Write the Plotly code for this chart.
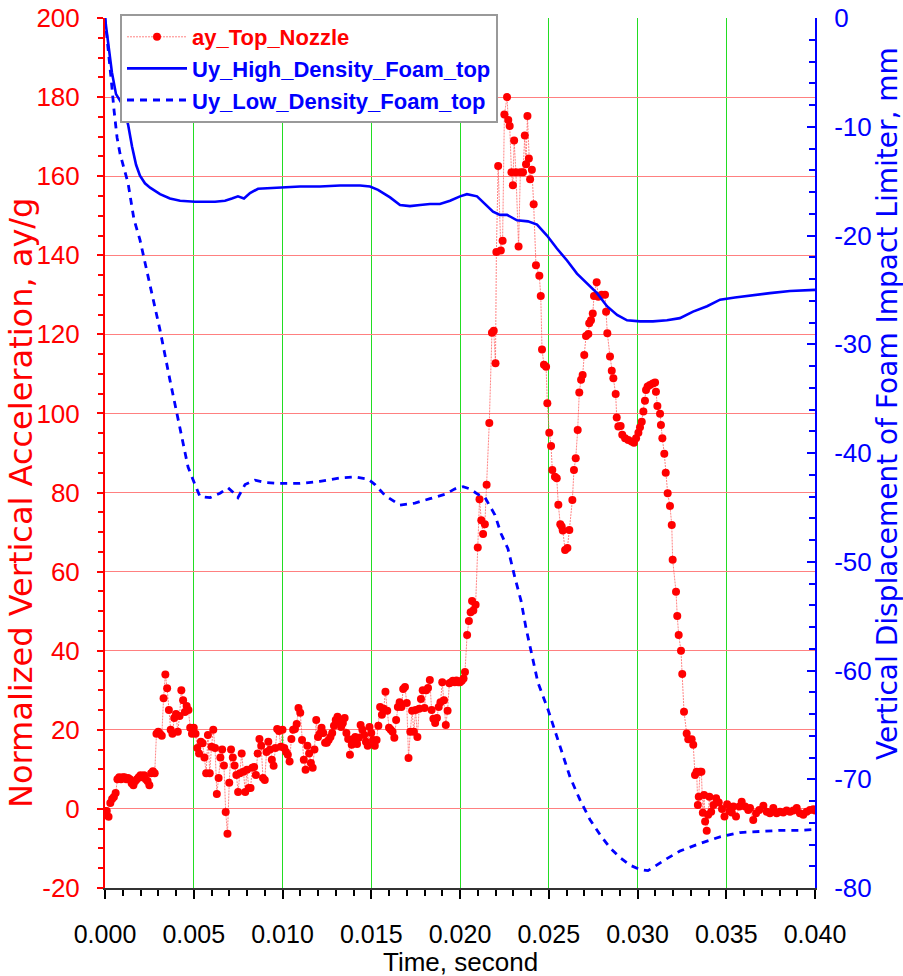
import plotly.graph_objects as go

# ---------------- data ----------------
# ay_Top_Nozzle: first part sampled every 0.0001 s from 0.0000 to 0.0199
ay_early_values = [
    -0.5, -0.5, -2, 1.5, 2.5, 3, 4, 7.5, 8, 7.5, 8, 8, 7.5, 7.8, 7.5, 6.5, 6, 7, 7.5, 8,
    8.5, 8, 8.5, 7.5, 7, 6, 9, 9.5, 9, 19, 19.5, 19, 18.5, 28, 34, 30.5, 25, 20, 19, 23,
    24, 19.5, 23.5, 30, 27.5, 24.5, 26, 25, 20.5, 19,
    20.5, 19, 15.4, 14, 17, 16.6, 13, 9, 18.7, 9, 15.7, 20, 15.4, 3.8, 7.8, 13, 15, 11, -0.8, -6.3,
    6.6, 15, 13, 11, 8.6, 4.3, 9, 14, 9.4, 4.3, 9.9, 5.3, 5.3, 10.4, 10.6, 8.6, 14, 17.7, 16, 7.8,
    7.3, 14.4, 17, 15, 12.4, 10.9, 15.4, 20.2, 19.7, 15.7,
    20, 15.4, 14.4, 13.7, 12, 17.7, 20, 20.2, 21.5, 25.5, 24.3, 17.4, 12.4, 9.9, 16, 14, 11.6, 10.4, 15, 22.5,
    18.2, 19, 20.5, 19.2, 16.7, 16.7, 17.4, 18.2, 19.2, 21, 22.5, 23.3, 22, 20.7, 21.7, 23, 19.2, 17.7, 13.7, 16.2,
    17.7, 18.2, 16.4, 18, 21.2, 20, 18.7, 17, 16, 20.7,
    19.2, 17.4, 16, 17.4, 21, 25.8, 23.8, 25.3, 29.6, 24.8, 20.5, 20, 19.5, 18, 22.5, 25.8, 27, 25.8, 30.3, 30.8,
    26.8, 12.9, 19.5, 24.8, 19.5, 25, 18.2, 25.3, 27.8, 30, 25.5, 30, 30.6, 32.6, 25, 22.8, 21.7, 23, 25.8, 27,
    32, 27.5, 21.2, 24.8, 31.8, 32, 32.4, 32, 32.5, 32,
]
ay_early_times = [round(i * 0.0001, 4) for i in range(len(ay_early_values))]

ay_late_times = [
    0.02000, 0.02010, 0.02020, 0.02028, 0.02040, 0.02050, 0.02060, 0.02068, 0.02075, 0.02088,
    0.02100, 0.02110, 0.02120, 0.02130, 0.02140, 0.02150, 0.02165, 0.02180, 0.02190, 0.02200,
    0.02205, 0.02215, 0.02230, 0.02240, 0.02250, 0.02265, 0.02272, 0.02280, 0.02290, 0.02298,
    0.02305, 0.02315, 0.02330, 0.02340, 0.02355, 0.02365, 0.02372, 0.02380, 0.02388, 0.02395,
    0.02405, 0.02415, 0.02428, 0.02447, 0.02455, 0.02462, 0.02473, 0.02485, 0.02492, 0.02503,
    0.02513, 0.02520, 0.02535, 0.02545, 0.02554, 0.02565, 0.02573, 0.02579, 0.02592, 0.02605,
    0.02616, 0.02633, 0.02642, 0.02652, 0.02663, 0.02672, 0.02682, 0.02691, 0.02700, 0.02710,
    0.02723, 0.02728, 0.02738, 0.02748, 0.02755, 0.02770, 0.02779, 0.02798, 0.02817, 0.02823,
    0.02830, 0.02845, 0.02855, 0.02864, 0.02877, 0.02883, 0.02892, 0.02905, 0.02914, 0.02930,
    0.02948, 0.02967, 0.02980, 0.02992, 0.03005, 0.03014, 0.03024, 0.03033, 0.03042, 0.03048,
    0.03057, 0.03070, 0.03086, 0.03099, 0.03104, 0.03112, 0.03127, 0.03132, 0.03140, 0.03151,
    0.03159, 0.03170, 0.03183, 0.03193, 0.03198, 0.03217, 0.03224, 0.03232, 0.03245, 0.03252,
    0.03262, 0.03277, 0.03286, 0.03305, 0.03314, 0.03324, 0.03333, 0.03340, 0.03345, 0.03352,
    0.03360, 0.03368, 0.03375, 0.03381, 0.03390, 0.03398, 0.03405, 0.03415, 0.03428, 0.03443,
    0.03458, 0.03476, 0.03490, 0.03505, 0.03518, 0.03531, 0.03540, 0.03555, 0.03574, 0.03587,
    0.03606, 0.03624, 0.03634, 0.03652, 0.03668, 0.03686, 0.03709, 0.03728, 0.03746, 0.03765,
    0.03784, 0.03803, 0.03821, 0.03840, 0.03859, 0.03878, 0.03897, 0.03915, 0.03934, 0.03953,
    0.03972, 0.03991, 0.04000,
]
ay_late_values = [
    32.0, 32.4, 33.0, 34.6, 44.0, 47.5, 49.7, 52.6, 50.2, 51.6,
    66.1, 78.3, 73.0, 69.5, 72.0, 82.0, 97.6, 120.4, 120.9, 112.7,
    140.8, 162.6, 141.2, 143.7, 175.6, 180.0, 174.2, 172.7, 161.0, 157.7,
    169.0, 161.0, 142.2, 161.0, 161.0, 170.3, 163.0, 175.2, 164.5, 159.2,
    161.6, 152.9, 137.5, 134.8, 129.7, 116.2, 112.3, 111.8, 102.6, 95.1,
    91.8, 85.7, 84.0, 83.6, 76.9, 72.0, 71.4, 70.4, 65.5, 66.0,
    70.5, 78.1, 85.7, 88.7, 95.8, 105.3, 108.5, 109.7, 114.8, 119.6,
    120.1, 122.8, 123.6, 125.3, 129.7, 133.2, 129.5, 130.0, 130.0, 125.7,
    120.3, 114.4, 110.8, 108.9, 104.9, 99.0, 96.7, 96.8, 94.6, 93.7,
    93.3, 92.9, 92.6, 93.7, 95.1, 96.5, 97.9, 100.5, 103.2, 105.9,
    106.8, 107.2, 107.6, 107.8, 105.5, 101.9, 99.9, 97.1, 93.7, 89.8,
    85.0, 79.8, 76.6, 71.8, 63.0, 54.9, 48.8, 44.0, 40.0, 34.1,
    24.6, 19.1, 17.6, 17.6, 16.2, 8.6, 9.4, 1.0, 3.1, 9.4,
    9.4, -1.0, 3.5, -3.2, -5.5, -1.5, 3.1, -0.7, 1.0, 2.7,
    1.6, 0.0, -1.9, 1.2, -0.5, -0.9, 0.6, -1.9, 0.6, 1.8,
    0.6, -0.3, 0.2, -2.8, -1.1, -0.3, 0.8, -0.7, -1.1, 0.2,
    -1.1, -0.7, -0.9, -0.4, -0.7, -0.4, 0.2, -1.1, -1.5, -0.7,
    -0.3, -0.1, -0.4,
]
ay_times = ay_early_times + ay_late_times
ay_values = ay_early_values + ay_late_values

# Uy_High_Density_Foam_top (mm)
high_times = [
    0.0, 0.00017, 0.00039, 0.00062, 0.00085, 0.00107, 0.0013, 0.00152, 0.00175, 0.00197,
    0.00225, 0.00254, 0.0031, 0.00366, 0.00423, 0.00507, 0.0062, 0.00676, 0.00715, 0.00749,
    0.00783, 0.00817, 0.00862, 0.00986, 0.01099, 0.01211, 0.01324, 0.01437, 0.01493, 0.01538,
    0.01606, 0.01662, 0.01718, 0.01775, 0.01831, 0.01887, 0.01944, 0.02, 0.02039, 0.02096,
    0.0213, 0.02186, 0.02225, 0.02265, 0.02321, 0.02383, 0.02434, 0.0249, 0.02546, 0.02603,
    0.02659, 0.02715, 0.02772, 0.02828, 0.02885, 0.02941, 0.03014, 0.03087, 0.03166, 0.03239,
    0.03313, 0.03392, 0.03465, 0.03549, 0.03634, 0.03746, 0.03859, 0.04,
]
high_values = [
    0.0, -2.0, -5.0, -7.0, -7.6, -8.2, -9.8, -11.8, -13.5, -14.5,
    -15.2, -15.6, -16.2, -16.6, -16.8, -16.9, -16.9, -16.8, -16.6, -16.4,
    -16.6, -16.1, -15.7, -15.6, -15.5, -15.5, -15.4, -15.4, -15.5, -15.8,
    -16.5, -17.2, -17.3, -17.2, -17.1, -17.1, -16.8, -16.4, -16.2, -16.4,
    -16.9, -17.8, -18.1, -18.1, -18.6, -18.7, -19.0, -20.0, -21.2, -22.3,
    -23.5, -24.4, -25.3, -26.5, -27.3, -27.8, -27.9, -27.9, -27.8, -27.6,
    -27.0, -26.5, -25.9, -25.7, -25.5, -25.3, -25.1, -25.0,
]

# Uy_Low_Density_Foam_top (mm)
low_times = [
    0.0, 0.00017, 0.00034, 0.00051, 0.00068, 0.00085, 0.00107, 0.0013, 0.00163, 0.00197,
    0.00254, 0.0031, 0.00366, 0.00423, 0.00468, 0.00507, 0.00535, 0.00592, 0.00648, 0.00693,
    0.00721, 0.00749, 0.00789, 0.00845, 0.00901, 0.00986, 0.01099, 0.01211, 0.01324, 0.01408,
    0.01482, 0.01521, 0.01577, 0.01662, 0.01746, 0.01831, 0.01915, 0.01972, 0.02017, 0.02056,
    0.02101, 0.02141, 0.02197, 0.02231, 0.0227, 0.0231, 0.02344, 0.02372, 0.024, 0.02439,
    0.02496, 0.02563, 0.0262, 0.02676, 0.02732, 0.02789, 0.02845, 0.02901, 0.02958, 0.03014,
    0.03059, 0.03099, 0.03155, 0.03239, 0.03352, 0.03465, 0.03577, 0.0369, 0.03803, 0.03915,
    0.04,
]
low_values = [
    0.0, -2.5, -5.5, -8.5, -11.0, -12.5, -13.8, -15.2, -18.5, -20.4,
    -24.6, -28.7, -33.3, -37.9, -41.3, -42.9, -44.0, -44.1, -43.7, -43.2,
    -43.6, -44.1, -42.9, -42.5, -42.7, -42.8, -42.8, -42.6, -42.3, -42.2,
    -42.4, -42.9, -43.9, -44.8, -44.6, -44.2, -43.8, -43.3, -43.1, -43.3,
    -43.8, -44.1, -45.7, -47.4, -48.8, -51.5, -53.6, -56.1, -58.2, -61.1,
    -63.6, -67.0, -69.8, -71.9, -73.7, -75.1, -76.3, -77.2, -77.9, -78.3,
    -78.4, -78.0, -77.4, -76.6, -75.9, -75.3, -74.9, -74.8, -74.7, -74.7,
    -74.6,
]

x_tickvals = [0.000, 0.005, 0.010, 0.015, 0.020, 0.025, 0.030, 0.035, 0.040]
x_ticktext = ["0.000", "0.005", "0.010", "0.015", "0.020", "0.025", "0.030", "0.035", "0.040"]
left_tickvals = [-20, 0, 20, 40, 60, 80, 100, 120, 140, 160, 180, 200]
left_ticktext = ["-20", "0", "20", "40", "60", "80", "100", "120", "140", "160", "180", "200"]
right_tickvals = [-80, -70, -60, -50, -40, -30, -20, -10, 0]
right_ticktext = ["-80", "-70", "-60", "-50", "-40", "-30", "-20", "-10", "0"]

# ---------------- figure ----------------
RED = "#ff0000"
BLUE = "#0000ff"
SANS = "Liberation Sans, Arial, sans-serif"
WIDE = "DejaVu Sans, Liberation Sans, sans-serif"

fig = go.Figure()
fig.add_trace(go.Scatter(
    x=ay_times, y=ay_values, mode="lines+markers",
    name="<b><span style='color:#ff0000'>ay_Top_Nozzle</span></b>",
    line=dict(color="rgba(255,90,90,0.75)", width=1, dash="2px,1px"),
    marker=dict(color=RED, size=8, line=dict(width=0)),
    yaxis="y",
))
fig.add_trace(go.Scatter(
    x=high_times, y=high_values, mode="lines",
    name="<b><span style='color:#0000ff'>Uy_High_Density_Foam_top</span></b>",
    line=dict(color=BLUE, width=2.6),
    yaxis="y2",
))
fig.add_trace(go.Scatter(
    x=low_times, y=low_values, mode="lines",
    name="<b><span style='color:#0000ff'>Uy_Low_Density_Foam_top</span></b>",
    line=dict(color=BLUE, width=2.8, dash="7px,6px"),
    yaxis="y2",
))

fig.update_layout(
    width=903, height=976,
    margin=dict(l=105, r=88, t=18, b=88, autoexpand=False),
    paper_bgcolor="white", plot_bgcolor="white",
    showlegend=True,
    legend=dict(
        x=(120 - 105) / 710, y=1 + 4 / 870, xanchor="left", yanchor="top",
        bgcolor="white", bordercolor="#999999", borderwidth=2,
        font=dict(family=SANS, size=22, color="black"),
        tracegroupgap=0, itemwidth=60,
    ),
    xaxis=dict(
        range=[0, 0.04], tickvals=x_tickvals, ticktext=x_ticktext,
        showgrid=True, gridcolor="#22dd22", gridwidth=1,
        showline=True, linecolor="#333333", linewidth=2,
        ticks="outside", ticklen=9, tickwidth=1.5, tickcolor="black",
        minor=dict(dtick=0.001, ticks="outside", ticklen=6, tickcolor="black", showgrid=False),
        tickfont=dict(family=SANS, size=25, color="black"),
        ticklabelstandoff=14,
        zeroline=False, automargin=False,
    ),
    yaxis=dict(
        range=[-20, 200], tickvals=left_tickvals, ticktext=left_ticktext,
        showgrid=True, gridcolor="#ff8080", gridwidth=1,
        showline=True, linecolor=RED, linewidth=2,
        ticks="outside", ticklen=6, tickwidth=1.5, tickcolor=RED,
        minor=dict(dtick=5, ticks="outside", ticklen=5, tickcolor=RED, showgrid=False),
        tickfont=dict(family=SANS, size=26, color=RED),
        ticklabelstandoff=12,
        zeroline=False, automargin=False,
    ),
    yaxis2=dict(
        range=[-80, 0], tickvals=right_tickvals, ticktext=right_ticktext,
        overlaying="y", side="right",
        showgrid=False,
        showline=True, linecolor=BLUE, linewidth=2,
        ticks="inside", ticklen=8, tickwidth=1.5, tickcolor=BLUE,
        minor=dict(dtick=2, ticks="inside", ticklen=6, tickcolor=BLUE, showgrid=False),
        tickfont=dict(family=SANS, size=26, color=BLUE),
        ticklabelstandoff=12,
        zeroline=False, automargin=False,
    ),
    annotations=[
        dict(text="Time, second", xref="paper", yref="paper",
             x=0.5, y=-(962 - 888) / 870, xanchor="center", yanchor="middle",
             showarrow=False, font=dict(family=SANS, size=26, color="black")),
        dict(text="Normalized Vertical Acceleration, ay/g", xref="paper", yref="paper",
             x=(21 - 105) / 710, y=(888 - 503) / 870, xanchor="center", yanchor="middle",
             textangle=-90,
             showarrow=False, font=dict(family=WIDE, size=32, color=RED)),
        dict(text="Vertical Displacement of Foam Impact Limiter, mm", xref="paper", yref="paper",
             x=(887 - 105) / 710, y=(888 - 404) / 870, xanchor="center", yanchor="middle",
             textangle=-90,
             showarrow=False, font=dict(family=WIDE, size=28, color=BLUE)),
    ],
)

fig.write_html("out.html")
